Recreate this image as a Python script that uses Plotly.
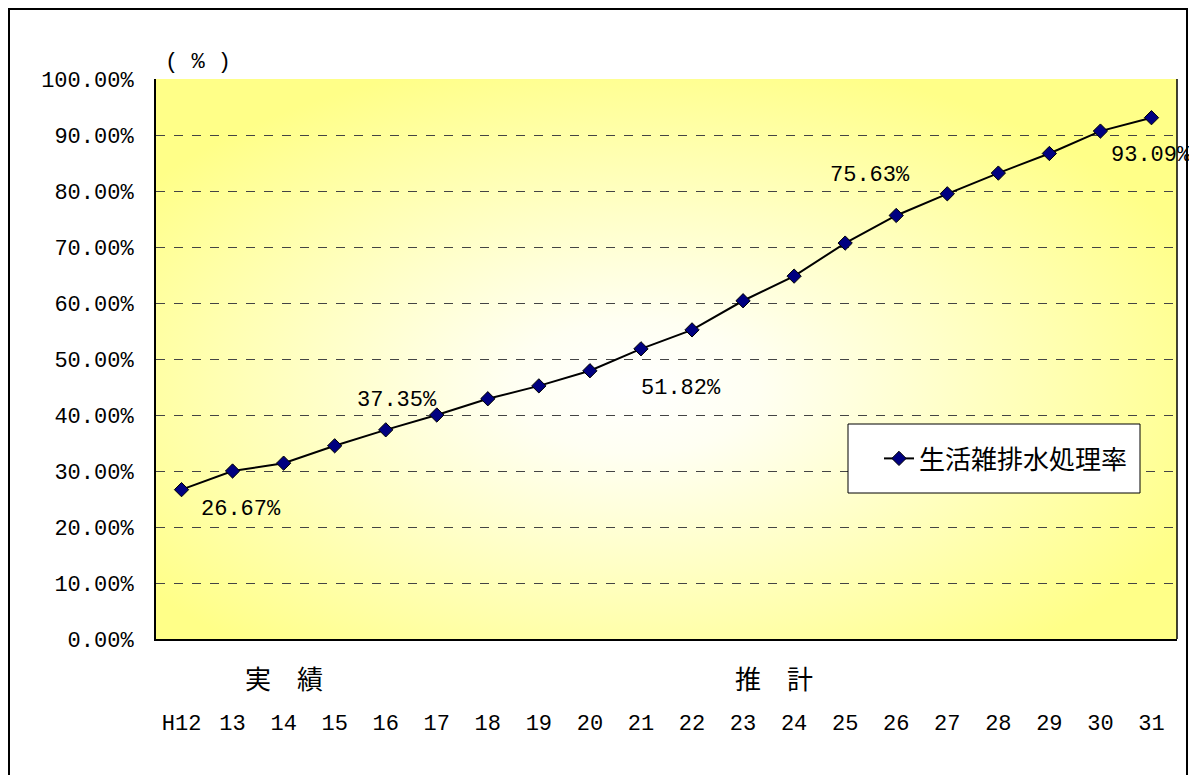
import base64
import plotly.graph_objects as go

# ---- data ----
categories = ["H12", "13", "14", "15", "16", "17", "18", "19", "20", "21",
              "22", "23", "24", "25", "26", "27", "28", "29", "30", "31"]
rates = [26.67, 30.0, 31.4, 34.5, 37.35, 40.0, 42.9, 45.2, 47.9, 51.82,
         55.2, 60.4, 64.8, 70.7, 75.63, 79.5, 83.2, 86.7, 90.7, 93.09]
series_name = "生活雑排水処理率"
labelled_idx = [0, 4, 9, 14, 19]
label_shift = {0: (59, -20), 4: (11, 29), 9: (40, -40), 14: (-26, 40), 19: (0, -38)}
period_labels = [("実　績", 2.0), ("推　計", 11.6)]
y_ticks = [0, 10, 20, 30, 40, 50, 60, 70, 80, 90, 100]

NUM_FONT = "Liberation Mono"
JP_FONT = "Noto Sans CJK JP"

x_idx = list(range(len(categories)))

# page offset (browser body margin)
OFF = 8
W, H = 1197 - 2 * OFF, 783 - 2 * OFF
L, T = 148, 71
R = W - L - 1021
B = H - T - 560
pw, ph = W - L - R, H - T - B


def sx(px):  # screen px -> paper x
    return (px - OFF - L) / pw


def sy(py):  # screen px -> paper y
    return (H - B - (py - OFF)) / ph


fig = go.Figure()
fig.add_trace(go.Scatter(
    x=x_idx, y=rates, name=series_name, mode="lines+markers",
    line=dict(color="black", width=2),
    marker=dict(symbol="diamond", size=11, color="#000080",
                line=dict(color="black", width=1)),
))

# gradient background for plot area
svg = ("<svg xmlns='http://www.w3.org/2000/svg' width='1021' height='560' "
       "preserveAspectRatio='none'><defs><radialGradient id='g' cx='0.47' cy='0.55' r='0.6'>"
       "<stop offset='0' stop-color='#ffffff'/><stop offset='0.2' stop-color='#fffff2'/>"
       "<stop offset='1' stop-color='#ffff88'/></radialGradient></defs>"
       "<rect width='1021' height='560' fill='url(#g)'/></svg>")
src = "data:image/svg+xml;base64," + base64.b64encode(svg.encode()).decode()
fig.add_layout_image(dict(source=src, xref="paper", yref="paper", x=0, y=1,
                          sizex=1, sizey=1, sizing="stretch", layer="below",
                          xanchor="left", yanchor="top"))

annotations = []
for i in labelled_idx:
    dx, dy = label_shift[i]
    annotations.append(dict(x=i, y=rates[i], xref="x", yref="y", text=f"{rates[i]:.2f}%",
                            showarrow=False, xshift=dx, yshift=dy,
                            font=dict(family=NUM_FONT, size=22, color="black")))
for txt, xpos in period_labels:
    annotations.append(dict(x=xpos, y=sy(677), xref="x", yref="paper", text=txt,
                            showarrow=False, yanchor="middle",
                            font=dict(family=JP_FONT, size=26, color="black")))
annotations.append(dict(x=sx(163), y=sy(62), xref="paper", yref="paper", text="( % )",
                        showarrow=False, xanchor="left", yanchor="middle",
                        font=dict(family=NUM_FONT, size=22, color="black")))

shapes = [
    # outer chart border (left, top, right)
    dict(type="line", xref="paper", yref="paper", x0=sx(9), x1=sx(9), y0=sy(8), y1=sy(790),
         line=dict(color="black", width=2), layer="above"),
    dict(type="line", xref="paper", yref="paper", x0=sx(8), x1=sx(1188), y0=sy(9), y1=sy(9),
         line=dict(color="black", width=2), layer="above"),
    dict(type="line", xref="paper", yref="paper", x0=sx(1187), x1=sx(1187), y0=sy(8), y1=sy(790),
         line=dict(color="black", width=2), layer="above"),
    # right border of plot area
    dict(type="line", xref="paper", yref="paper", x0=1, x1=1, y0=0, y1=1,
         line=dict(color="black", width=1.5), layer="above"),
    # legend box
    dict(type="rect", xref="paper", yref="paper",
         x0=sx(848), x1=sx(1140),
         y0=sy(493), y1=sy(424),
         line=dict(color="black", width=1), fillcolor="white", layer="above"),
]

fig.update_layout(
    width=W, height=H,
    margin=dict(l=L, r=R, t=T, b=B),
    paper_bgcolor="white",
    plot_bgcolor="rgba(0,0,0,0)",
    showlegend=True,
    legend=dict(x=sx(1006), y=sy(458.5), xanchor="center", yanchor="middle",
                bgcolor="rgba(0,0,0,0)", borderwidth=0,
                font=dict(family=JP_FONT, size=26, color="black")),
    annotations=annotations,
    shapes=shapes,
    xaxis=dict(range=[-0.5, len(categories) - 0.5], tickmode="array", tickvals=x_idx,
               ticktext=categories, showgrid=False, zeroline=False,
               showline=True, linecolor="black", linewidth=2, ticks="",
               ticklabelstandoff=63,
               tickfont=dict(family=NUM_FONT, size=22, color="black")),
    yaxis=dict(range=[0, 100], tickmode="array", tickvals=y_ticks,
               ticktext=[f"{v:.2f}%" for v in y_ticks],
               showgrid=True, gridcolor="#444444", griddash="dash", gridwidth=1,
               zeroline=False, showline=True, linecolor="black", linewidth=2, ticks="",
               ticklabelstandoff=16,
               tickfont=dict(family=NUM_FONT, size=22, color="black")),
)

fig.write_html("out.html")
